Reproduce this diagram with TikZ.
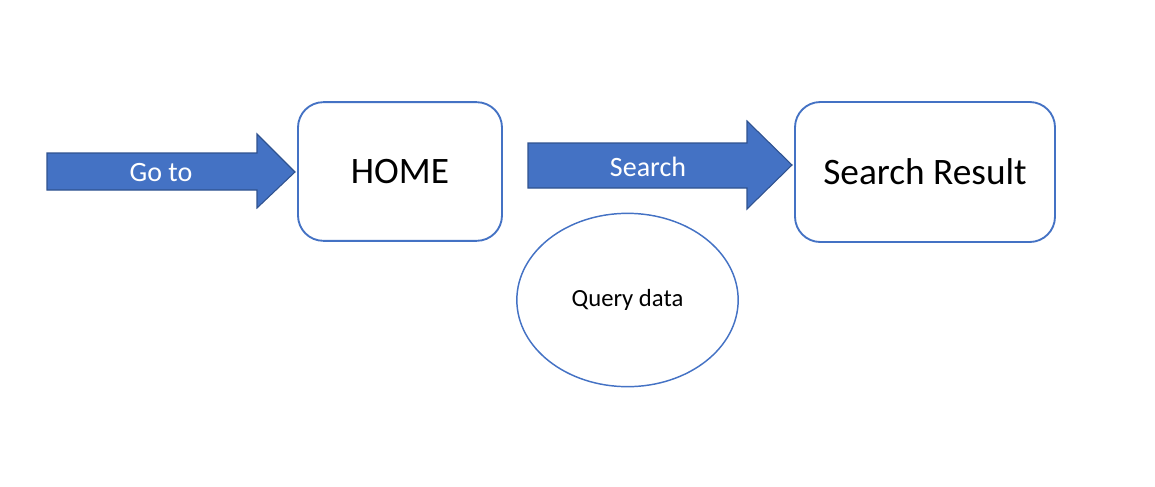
\documentclass[tikz,border=0pt]{standalone}
\usepackage{fontspec}
\setmainfont{Carlito}
\usetikzlibrary{shapes.geometric}
\definecolor{officeblue}{HTML}{4472C4}
\definecolor{darkblue}{HTML}{2F528F}

\begin{document}
\begin{tikzpicture}[x=0.75pt,y=-0.75pt,
page box/.style={rectangle,rounded corners=19pt,draw=officeblue,line width=1.4pt,fill=white,font=\fontsize{28}{34}\selectfont},
arrow label/.style={text=white,font=\fontsize{21}{25}\selectfont},
block arrow/.style={fill=officeblue,draw=darkblue,line width=0.8pt,line join=miter}]
\useasboundingbox (0,0) rectangle (1155,486);

% Left arrow
  \draw[block arrow] (47,153) -- (257,153) -- (257,134) -- (295,172)
    -- (257,208) -- (257,190) -- (47,190) -- cycle;
  \node[arrow label] (goto) at (161,173) {Go to};

% Home page
  \node[page box,minimum width=153pt,minimum height=104pt,text depth=0pt] (home) at (400,171.5) {HOME};

% Middle arrow
  \draw[block arrow] (528,143) -- (747,143) -- (747,121) -- (792,165)
    -- (747,209) -- (747,188) -- (528,188) -- cycle;
  \node[arrow label] (search) at (648,167) {Search};

% Result page
  \node[page box,minimum width=195pt,minimum height=105pt] (result) at (925,172) {Search Result};

% Query
  \node[ellipse,draw=officeblue,line width=1.1pt,minimum width=166pt,minimum height=130pt,
    font=\fontsize{18.5}{22}\selectfont] (query) at (627.5,300) {\raisebox{-1.5pt}{Query data}};

\end{tikzpicture}
\end{document}
